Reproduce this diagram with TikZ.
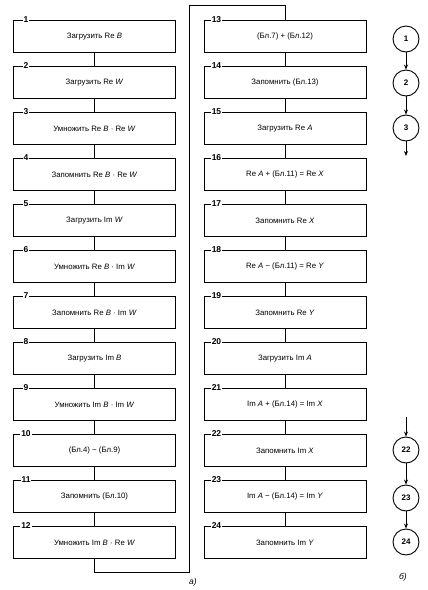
\documentclass[tikz,border=0pt]{standalone}
\usepackage{fontspec}
\setmainfont{Liberation Sans}
\usetikzlibrary{arrows.meta}
\tikzset{
  blk/.style={draw, line width=1pt, minimum width=162pt, minimum height=32pt, inner sep=0pt, anchor=north, font=\fontsize{7.8}{9}\selectfont},
  num/.style={fill=white, inner sep=1pt, font=\fontsize{8.5}{10}\selectfont\bfseries},
  conn/.style={line width=1pt},
  circ/.style={draw, circle, line width=0.9pt, minimum size=26pt, inner sep=0pt, font=\fontsize{8}{10}\selectfont\bfseries},
  arr/.style={line width=1pt, -{Stealth[length=5pt,width=4pt]}},
  partlbl/.style={font=\fontsize{8.5}{10}\selectfont\itshape}
}
\begin{document}
\begin{tikzpicture}[x=1pt,y=-1pt]
\useasboundingbox (0,0) rectangle (428,590);
% left column
\foreach \i/\t in {1/{Загрузить Re \textit{B}},
                   2/{Загрузить Re \textit{W}},
                   3/{Умножить Re \textit{B} · Re \textit{W}},
                   4/{Запомнить Re \textit{B} · Re \textit{W}},
                   5/{Загрузить Im \textit{W}},
                   6/{Умножить Re \textit{B} · Im \textit{W}},
                   7/{Запомнить Re \textit{B} · Im \textit{W}},
                   8/{Загрузить Im \textit{B}},
                   9/{Умножить Im \textit{B} · Im \textit{W}},
                   10/{(Бл.4) − (Бл.9)},
                   11/{Запомнить (Бл.10)},
                   12/{Умножить Im \textit{B} · Re \textit{W}}}{
  \node[blk] (b\i) at (94.5,{20+46*(\i-1)}) {\t};
  \node[num] (n\i) at ([xshift=13pt]b\i.north west) {\i};
}
% right column
\foreach \i/\t in {13/{(Бл.7) + (Бл.12)},
                   14/{Запомнить (Бл.13)},
                   15/{Загрузить Re \textit{A}},
                   16/{Re \textit{A} + (Бл.11) = Re \textit{X}},
                   17/{Запомнить Re \textit{X}},
                   18/{Re \textit{A} − (Бл.11) = Re \textit{Y}},
                   19/{Запомнить Re \textit{Y}},
                   20/{Загрузить Im \textit{A}},
                   21/{Im \textit{A} + (Бл.14) = Im \textit{X}},
                   22/{Запомнить Im \textit{X}},
                   23/{Im \textit{A} − (Бл.14) = Im \textit{Y}},
                   24/{Запомнить Im \textit{Y}}}{
  \node[blk] (b\i) at (285,{20+46*(\i-13)}) {\t};
  \node[num] (n\i) at ([xshift=13pt]b\i.north west) {\i};
}
% connectors
\foreach \i [evaluate=\i as \j using int(\i+1)] in {1,...,11,13,14,...,23}{
  \draw[conn] (b\i.south) -- (b\j.north);
}
\coordinate (c1) at (189,572);
\coordinate (c2) at (189,5);
\draw[conn] (b12.south) |- (c1) -- (c2) -| (b13.north);
\node[partlbl] (la) at (193,582) {а)};
% part b
\node[circ] (k1) at (406,39) {1};
\node[circ] (k2) at (406,83) {2};
\node[circ] (k3) at (406,128) {3};
\coordinate (k3e) at (406,156);
\draw[arr] (k1) -- (k2);
\draw[arr] (k2) -- (k3);
\draw[arr] (k3) -- (k3e);
\coordinate (k22s) at (406,417);
\node[circ] (k22) at (406,450) {22};
\node[circ] (k23) at (406,498) {23};
\node[circ] (k24) at (406,542) {24};
\draw[arr] (k22s) -- (k22);
\draw[arr] (k22) -- (k23);
\draw[arr] (k23) -- (k24);
\node[partlbl] (lb) at (403,577) {б)};
\end{tikzpicture}
\end{document}
